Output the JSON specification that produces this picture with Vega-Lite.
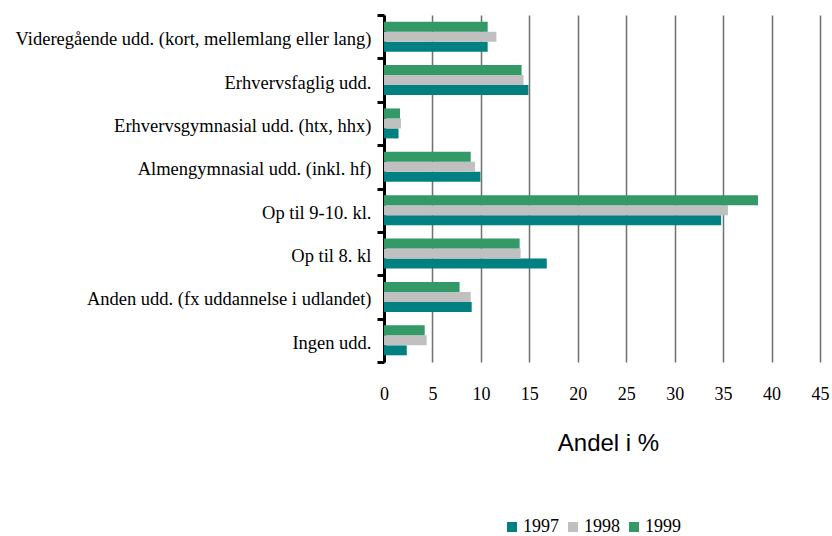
{
  "$schema": "https://vega.github.io/schema/vega-lite/v6.json",
  "autosize": "none",
  "width": 436,
  "height": 347,
  "padding": {"left": 384, "top": 15, "right": 12, "bottom": 174},
  "background": "white",
  "data": {
    "values": [
      {"cat": "Videregående udd. (kort, mellemlang eller lang)", "year": "1997", "v": 10.7},
      {"cat": "Videregående udd. (kort, mellemlang eller lang)", "year": "1998", "v": 11.6},
      {"cat": "Videregående udd. (kort, mellemlang eller lang)", "year": "1999", "v": 10.7},
      {"cat": "Erhvervsfaglig udd.", "year": "1997", "v": 14.9},
      {"cat": "Erhvervsfaglig udd.", "year": "1998", "v": 14.4},
      {"cat": "Erhvervsfaglig udd.", "year": "1999", "v": 14.2},
      {"cat": "Erhvervsgymnasial udd. (htx, hhx)", "year": "1997", "v": 1.5},
      {"cat": "Erhvervsgymnasial udd. (htx, hhx)", "year": "1998", "v": 1.75},
      {"cat": "Erhvervsgymnasial udd. (htx, hhx)", "year": "1999", "v": 1.65},
      {"cat": "Almengymnasial udd. (inkl. hf)", "year": "1997", "v": 9.95},
      {"cat": "Almengymnasial udd. (inkl. hf)", "year": "1998", "v": 9.4},
      {"cat": "Almengymnasial udd. (inkl. hf)", "year": "1999", "v": 8.95},
      {"cat": "Op til 9-10. kl.", "year": "1997", "v": 34.8},
      {"cat": "Op til 9-10. kl.", "year": "1998", "v": 35.5},
      {"cat": "Op til 9-10. kl.", "year": "1999", "v": 38.6},
      {"cat": "Op til 8. kl", "year": "1997", "v": 16.8},
      {"cat": "Op til 8. kl", "year": "1998", "v": 14.1},
      {"cat": "Op til 8. kl", "year": "1999", "v": 14.0},
      {"cat": "Anden udd. (fx uddannelse i udlandet)", "year": "1997", "v": 9.05},
      {"cat": "Anden udd. (fx uddannelse i udlandet)", "year": "1998", "v": 8.95},
      {"cat": "Anden udd. (fx uddannelse i udlandet)", "year": "1999", "v": 7.8},
      {"cat": "Ingen udd.", "year": "1997", "v": 2.35},
      {"cat": "Ingen udd.", "year": "1998", "v": 4.4},
      {"cat": "Ingen udd.", "year": "1999", "v": 4.2}
    ]
  },
  "mark": {"type": "bar"},
  "encoding": {
    "y": {
      "field": "cat",
      "type": "nominal",
      "sort": null,
      "scale": {"paddingInner": 0, "paddingOuter": 0},
      "axis": {
        "title": null,
        "tickBand": "extent",
        "ticks": true,
        "tickSize": 7,
        "tickWidth": 3,
        "tickColor": "black",
        "domainColor": "black",
        "domainWidth": 3,
        "labelFont": "Liberation Serif",
        "labelFontSize": 18.5,
        "labelColor": "black",
        "labelPadding": 6,
        "labelOffset": 2,
        "labelLimit": 420,
        "grid": false
      }
    },
    "yOffset": {
      "field": "year",
      "type": "nominal",
      "sort": ["1999", "1998", "1997"],
      "scale": {"paddingInner": 0, "paddingOuter": 0.67}
    },
    "x": {
      "field": "v",
      "type": "quantitative",
      "scale": {"domain": [0, 45], "nice": false},
      "axis": {
        "values": [0, 5, 10, 15, 20, 25, 30, 35, 40, 45],
        "title": "Andel i %",
        "titleFont": "Liberation Sans",
        "titleFontSize": 24,
        "titleFontWeight": "normal",
        "titleColor": "black",
        "titlePadding": 28,
        "titleX": 224,
        "labelFont": "Liberation Serif",
        "labelFontSize": 18,
        "labelColor": "black",
        "labelPadding": 23,
        "labelFlush": false,
        "labelOverlap": false,
        "domain": false,
        "ticks": false,
        "grid": true,
        "gridColor": "#707070",
        "gridWidth": 1.5
      }
    },
    "color": {
      "field": "year",
      "type": "nominal",
      "scale": {"domain": ["1997", "1998", "1999"], "range": ["#008080", "#C0C0C0", "#339966"]},
      "legend": {
        "title": null,
        "orient": "none",
        "direction": "horizontal",
        "legendX": 119,
        "legendY": 503,
        "symbolType": "square",
        "symbolSize": 100,
        "symbolStrokeWidth": 0,
        "labelFont": "Liberation Serif",
        "labelFontSize": 18,
        "labelColor": "black",
        "labelOffset": 2,
        "columnPadding": 5
      }
    }
  },
  "config": {"view": {"stroke": null}, "font": "Liberation Serif"}
}
